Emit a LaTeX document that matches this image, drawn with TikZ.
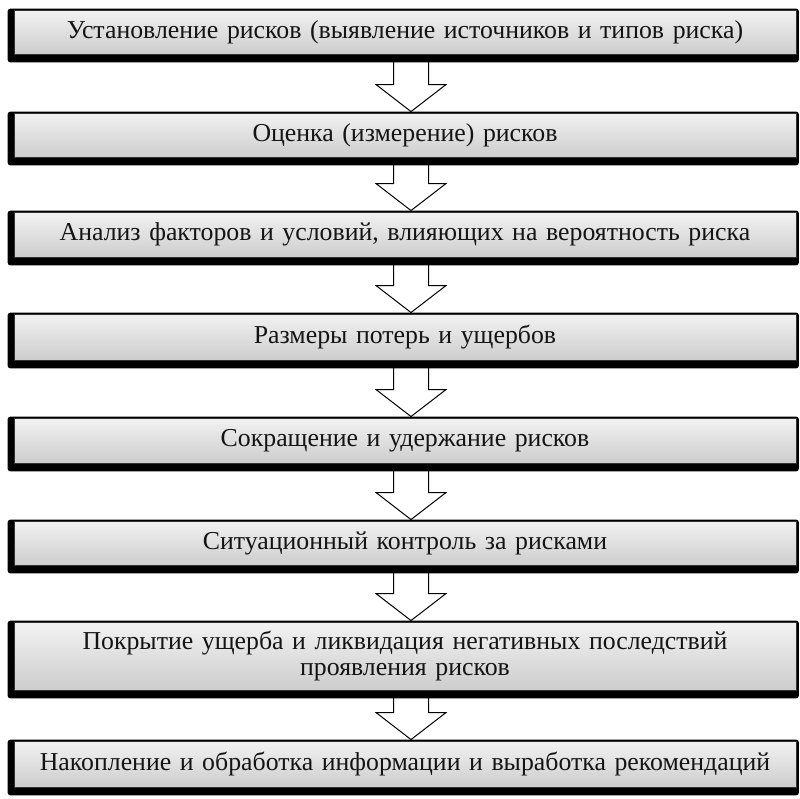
\documentclass[tikz,border=0pt]{standalone}
\usepackage{fontspec}
\setmainfont{Liberation Serif}
\usetikzlibrary{calc}
\pgfdeclarelayer{bglayer}
\pgfdeclarelayer{arrowlayer}
\pgfdeclarelayer{shadowlayer}
\pgfsetlayers{bglayer,arrowlayer,shadowlayer,main}
\definecolor{boxtop}{HTML}{F2F2F2}
\definecolor{boxbot}{HTML}{CDCDCD}
\definecolor{txt}{HTML}{141414}
\tikzset{
  stagebox/.style={draw=black!80, line width=0.9pt, top color=boxtop, bottom color=boxbot,
    minimum width=782pt, text width=770pt, align=center, inner sep=0pt,
    font=\fontsize{25.8}{26}\selectfont, text=txt},
  shadowfill/.style={fill=black, rounded corners=3pt},
  blockarrow/.style={fill=white, draw=black, line width=1pt, line join=miter}
}
\newcommand\stageshadow[1]{%
  \fill[shadowfill] ($(#1.south west)+(-6pt,-8pt)$) rectangle ($(#1.north east)+(2.5pt,1pt)$);}
\newcommand\stagearrow[2]{%
  \path[blockarrow] let \p1=(#1.south), \p2=(#2.north) in
    (\x1+6pt-17.5pt,\y1) -- (\x1+6pt+17.5pt,\y1) -- (\x1+6pt+17.5pt,\y2+28pt)
    -- (\x1+6pt+35pt,\y2+28pt) -- (\x1+6pt,\y2+1pt) -- (\x1+6pt-35pt,\y2+28pt)
    -- (\x1+6pt-17.5pt,\y2+28pt) -- cycle;}
\begin{document}
\begin{tikzpicture}[x=1pt,y=1pt]
\useasboundingbox (0,0) rectangle (800,-798);
\node[stagebox, minimum height=44pt] (s1) at (405,-32) {Установление рисков (выявление источников и типов риска)};
\node[stagebox, minimum height=44pt] (s2) at (405,-135) {Оценка (измерение) рисков};
\node[stagebox, minimum height=45pt] (s3) at (405,-234.5) {Анализ факторов и условий, влияющих на вероятность риска};
\node[stagebox, minimum height=46pt] (s4) at (405,-337) {Размеры потерь и ущербов};
\node[stagebox, minimum height=45pt] (s5) at (405,-440.5) {Сокращение и удержание рисков};
\node[stagebox, minimum height=44pt] (s6) at (405,-543) {Ситуационный контроль за рисками};
\node[stagebox, minimum height=68pt] (s7) at (405,-656) {Покрытие ущерба и ликвидация негативных последствий\\ проявления рисков};
\node[stagebox, minimum height=46pt] (s8) at (405,-764) {Накопление и обработка информации и выработка рекомендаций};
\begin{pgfonlayer}{bglayer}
\fill[white] (0,0) rectangle (800,-798);
\end{pgfonlayer}
\begin{pgfonlayer}{shadowlayer}
\foreach \s in {s1,s2,s3,s4,s5,s6,s7,s8} {\stageshadow{\s}}
\end{pgfonlayer}
\begin{pgfonlayer}{arrowlayer}
\stagearrow{s1}{s2}
\stagearrow{s2}{s3}
\stagearrow{s3}{s4}
\stagearrow{s4}{s5}
\stagearrow{s5}{s6}
\stagearrow{s6}{s7}
\stagearrow{s7}{s8}
\end{pgfonlayer}
\end{tikzpicture}
\end{document}
